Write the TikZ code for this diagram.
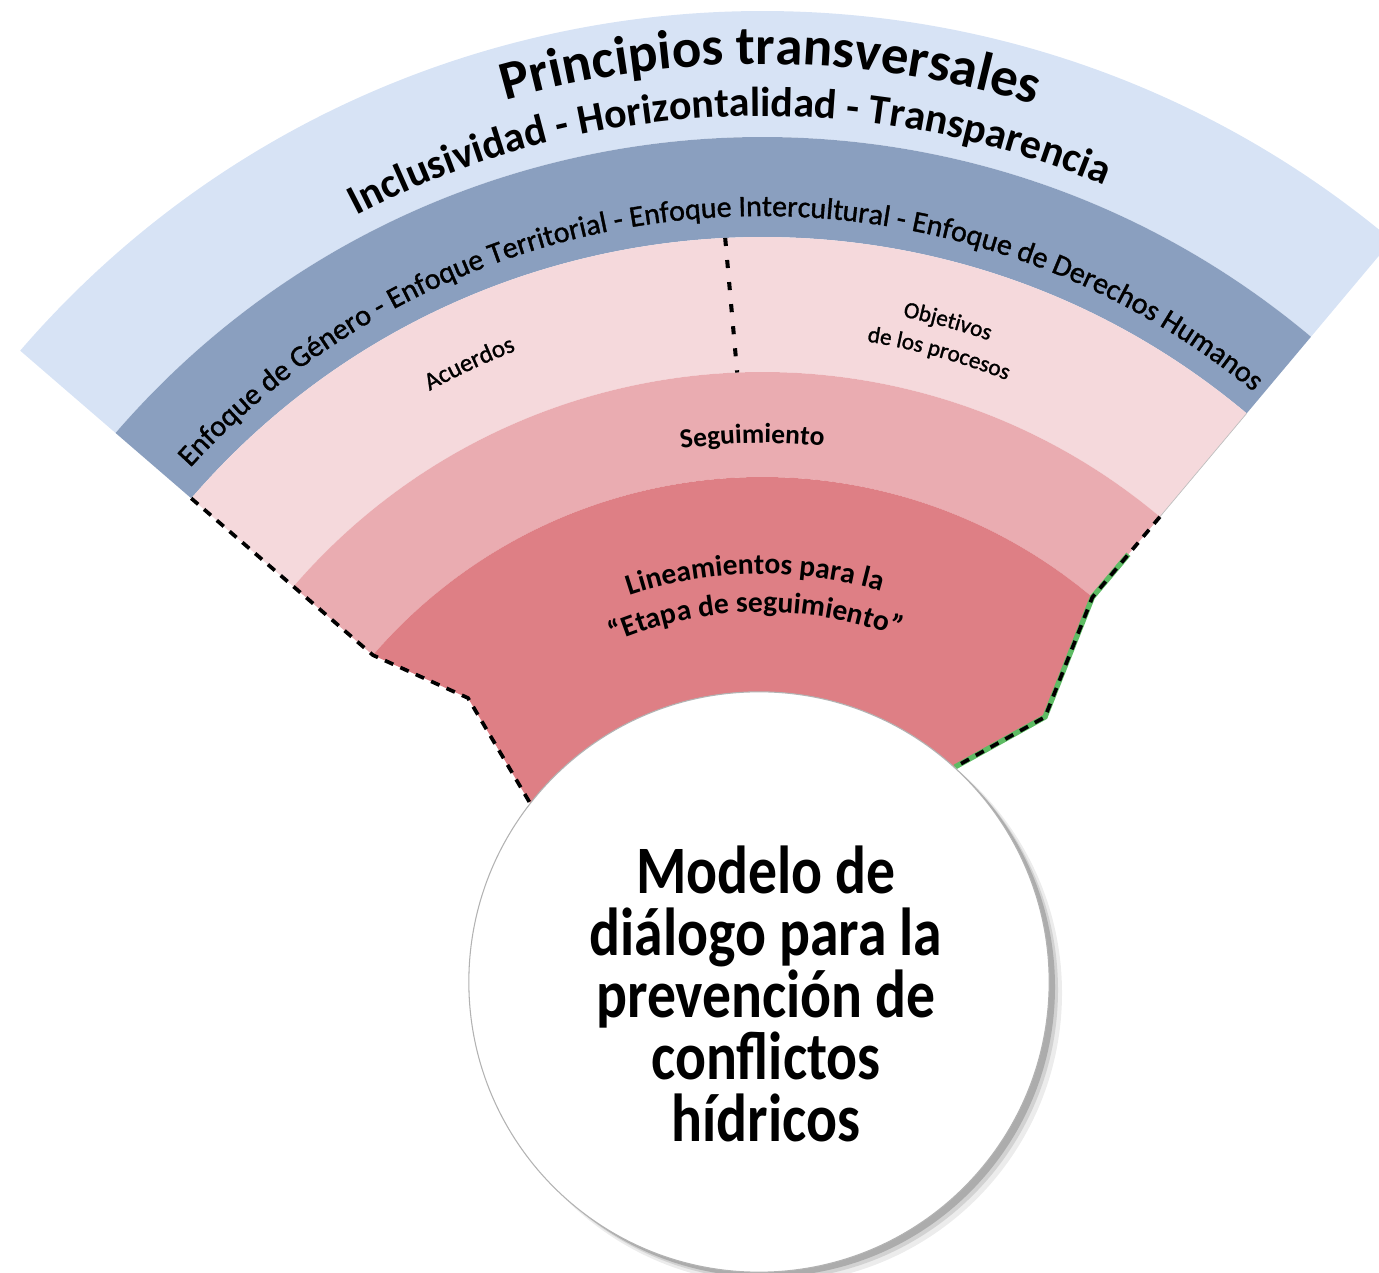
\documentclass[tikz,border=0pt]{standalone}
\usepackage{fontspec}
\setmainfont{Carlito}
\newfontfamily\hubfont[FakeStretch=0.85]{Carlito}
\newfontfamily\medfont[FakeBold=1.2]{Carlito}
\usepackage{tikz}
\usetikzlibrary{decorations.text}

\definecolor{principioscol}{HTML}{D7E3F5}
\definecolor{enfoquecol}{HTML}{8A9FBF}
\definecolor{acuerdocol}{HTML}{F5D9DC}
\definecolor{seguimcol}{HTML}{EAACB1}
\definecolor{lineamcol}{HTML}{DE7F85}
\definecolor{bordecol}{HTML}{5DBB63}

\newcommand{\fanleft}{139.2}
\newcommand{\fanright}{50}
% text set along an arc round the centre of the fan
\newcommand{\arclabel}[5]{\path[decorate, decoration={text along path, text align=center, text={|#4|#5}}] (#2:#1) arc[start angle=#2, end angle=#3, radius=#1];}

\tikzstyle{cutline}=[black, line width=1.05pt, dash pattern=on 2.6pt off 2.2pt]
\tikzstyle{divider}=[black, line width=1.15pt, dash pattern=on 2.3pt off 4pt]
\tikzstyle{greenline}=[bordecol, line width=1.5pt]
\tikzstyle{hub}=[circle, fill=white, draw=gray!60, line width=0.3pt, minimum size=5.8cm, inner sep=0]
\tikzstyle{hubtext}=[align=center, inner sep=0, font=\hubfont\bfseries\fontsize{19.3pt}{17.6pt}\selectfont]

\begin{document}
\begin{tikzpicture}[x=0.01cm, y=0.01cm]
  \clip (0,0) rectangle (1379,1273);
  \begin{scope}[shift={(762,282)}]
    % the bands of the fan
    \fill[principioscol] (\fanleft:980) arc[start angle=\fanleft, end angle=\fanright, radius=980]
      -- (\fanright:854) arc[start angle=\fanright, end angle=\fanleft, radius=854] -- cycle;
    \fill[enfoquecol] (\fanleft:854) arc[start angle=\fanleft, end angle=\fanright, radius=854]
      -- (\fanright:754) arc[start angle=\fanright, end angle=\fanleft, radius=754] -- cycle;
    \fill[acuerdocol] (\fanleft:754) arc[start angle=\fanleft, end angle=\fanright, radius=754]
      -- (\fanright:619) arc[start angle=\fanright, end angle=\fanleft, radius=619] -- cycle;
    \fill[seguimcol] (\fanleft:619) arc[start angle=\fanleft, end angle=\fanright, radius=619]
      -- (\fanright:514) arc[start angle=\fanright, end angle=\fanleft, radius=514] -- cycle;
    % corners of the cut round the hub
    \coordinate (hubc) at (-3,9);
    \coordinate (p1) at (283,274);
    \coordinate (p2) at (193,224);
    \coordinate (q1) at (-294,293);
    \coordinate (q2) at (-232,188);
    \fill[lineamcol] (\fanleft:514) arc[start angle=\fanleft, end angle=\fanright, radius=514]
      -- (p1) -- (p2) -- (hubc) -- (q2) -- (q1) -- cycle;
    % borders
    \draw[gray!50, line width=0.2pt] (\fanright:754) -- (\fanright:619);
    \draw[greenline] (\fanright:570) -- (\fanright:514) -- (p1) -- (p2);
    \draw[cutline] (\fanright:619) -- (\fanright:514) -- (p1) -- (p2);
    \draw[cutline] (\fanleft:754) -- (\fanleft:514) -- (q1) -- (q2);
    \draw[divider] (92.8:754) -- (92.3:619);
    % hub and its shadow
    \fill[gray!15] ([shift={(12,-11)}]hubc) circle (291);
    \fill[gray!35] ([shift={(9,-8)}]hubc) circle (290);
    \fill[gray!65] ([shift={(6,-5)}]hubc) circle (290);
    \node[hub] (modelo) at (hubc) {};
    \node[hubtext] (modelotxt) at (4,-3) {Modelo de\\diálogo para la\\prevención de\\conflictos\\hídricos};
    % labels along the arcs
    \arclabel{927}{129.5}{49.5}{\fontsize{15.6pt}{18pt}\selectfont\bfseries}{Principios transversales}
    \arclabel{875}{132.3}{52.3}{\fontsize{11.9pt}{14pt}\selectfont\bfseries}{Inclusividad - Horizontalidad - Transparencia}
    \arclabel{775}{144.1}{44.1}{\medfont\fontsize{8.5pt}{10pt}\selectfont}{Enfoque de Género - Enfoque Territorial - Enfoque Intercultural - Enfoque de Derechos Humanos}
    \arclabel{686}{135}{95}{\medfont\fontsize{7.1pt}{9pt}\selectfont}{Acuerdos}
    \arclabel{689}{94.5}{54.5}{\medfont\fontsize{6.6pt}{8pt}\selectfont}{Objetivos}
    \arclabel{658}{94.5}{54.5}{\medfont\fontsize{6.6pt}{8pt}\selectfont}{de los procesos}
    \arclabel{548}{111}{71}{\fontsize{7.8pt}{9pt}\selectfont\bfseries}{Seguimiento}
    \arclabel{417}{131}{51}{\fontsize{8.4pt}{10pt}\selectfont\bfseries}{Lineamientos para la}
    \arclabel{379}{131}{51}{\fontsize{8.4pt}{10pt}\selectfont\bfseries}{“Etapa de seguimiento”}
  \end{scope}
\end{tikzpicture}
\end{document}
